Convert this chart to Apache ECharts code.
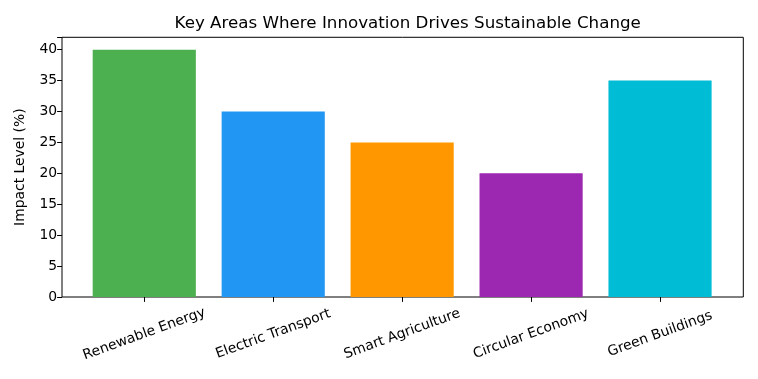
<!DOCTYPE html>
<html>
<head>
<meta charset="utf-8">
<script src="https://cdn.jsdelivr.net/npm/echarts@6/dist/echarts.min.js"></script>
<style>html,body{margin:0;padding:0;background:#fff}#c{width:758px;height:379px}</style>
</head>
<body>
<div id="c"></div>
<script>
const categories = ['Renewable Energy', 'Electric Transport', 'Smart Agriculture', 'Circular Economy', 'Green Buildings'];
const impactValues = [40, 30, 25, 20, 35];
const barColors = ['#4CAF50', '#2196F3', '#FF9800', '#9C27B0', '#00BCD4'];
const yTicks = [0, 5, 10, 15, 20, 25, 30, 35, 40];

const FONT = 'DejaVu Sans';
const chart = echarts.init(document.getElementById('c'), null, {renderer: 'canvas'});
chart.setOption({
  animation: false,
  backgroundColor: '#fff',
  title: {
    text: 'Key Areas Where Innovation Drives Sustainable Change',
    left: 402.7, top: 10, textAlign: 'center',
    textStyle: {fontFamily: FONT, fontSize: 16.7, fontWeight: 'normal', color: '#000'}
  },
  grid: [
    {left: 62, right: 14.7, top: 37.3, bottom: 82, show: true, borderColor: '#000', borderWidth: 1, backgroundColor: 'transparent', containLabel: false},
    {left: 79.8, right: 33.5, top: 37.3, bottom: 82, containLabel: false}
  ],
  xAxis: [
    {gridIndex: 0, type: 'value', show: false, min: 0, max: 1},
    {
      gridIndex: 1, type: 'category', data: categories,
      axisLine: {show: false},
      axisTick: {show: true, alignWithLabel: true, length: 4.9, lineStyle: {color: '#000', width: 1}},
      axisLabel: {
        fontFamily: FONT, fontSize: 13.9, color: '#000', rotate: 20,
        align: 'center', verticalAlign: 'middle', margin: 37, interval: 0
      },
      splitLine: {show: false}
    }
  ],
  yAxis: [
    {gridIndex: 0, type: 'value', show: false, min: 0, max: 1},
    {
      gridIndex: 1, type: 'value', min: 0, max: 42, interval: 5, offset: 17.8,
      name: 'Impact Level (%)', nameLocation: 'middle', nameGap: 35, nameRotate: 90,
      nameTextStyle: {fontFamily: FONT, fontSize: 13.9, color: '#000'},
      axisLine: {show: false},
      axisTick: {show: true, length: 4.9, lineStyle: {color: '#000', width: 1}},
      axisLabel: {
        fontFamily: FONT, fontSize: 13.9, color: '#000', margin: 4.9,
        formatter: function (v) { return yTicks.indexOf(v) >= 0 ? String(v) : ''; }
      },
      splitLine: {show: false}
    }
  ],
  series: [{
    type: 'bar', xAxisIndex: 1, yAxisIndex: 1, barWidth: '80%',
    data: impactValues.map((v, i) => ({value: v, itemStyle: {color: barColors[i]}}))
  }]
});
</script>
</body>
</html>
